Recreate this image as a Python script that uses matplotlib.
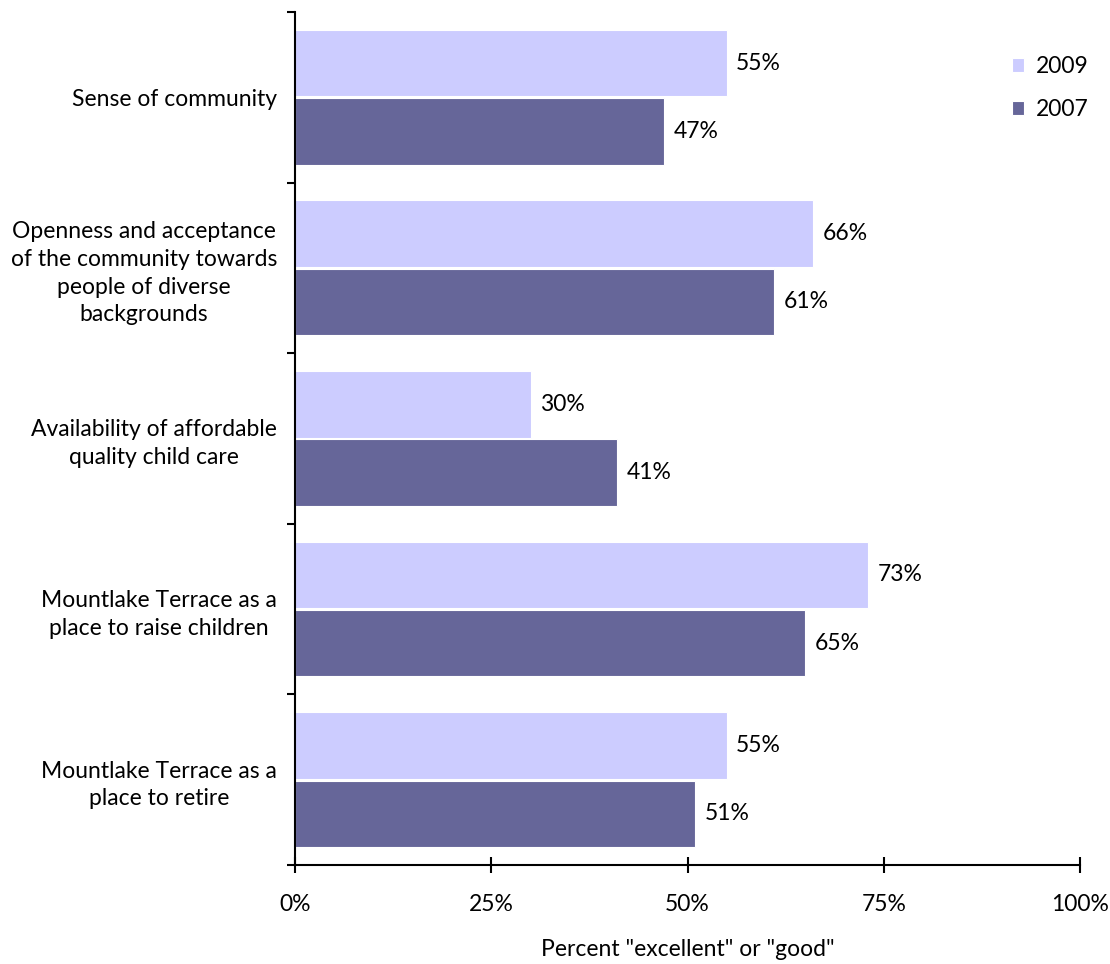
import numpy as np
import matplotlib.pyplot as plt
from matplotlib.ticker import FuncFormatter

categories = ['Sense of community',
              'Openness and acceptance\nof the community towards\npeople of diverse\nbackgrounds',
              'Availability of affordable\nquality child care',
              'Mountlake Terrace as a\nplace to raise children',
              'Mountlake Terrace as a\nplace to retire']
vals_2009 = [55, 66, 30, 73, 55]
vals_2007 = [47, 61, 41, 65, 51]

c2009 = '#ccccff'
c2007 = '#666699'

plt.rcParams['font.family'] = ['Lato', 'DejaVu Sans']
fs = 16.5

fig = plt.figure(figsize=(11.1, 9.64), dpi=100)
ax = fig.add_axes([0.2658, 0.1027, 0.7072, 0.8849])

y = np.arange(len(categories))
h = 0.39
ax.barh(y - 0.2, vals_2009, height=h, color=c2009, edgecolor='white', linewidth=0.8, label='2009')
ax.barh(y + 0.2, vals_2007, height=h, color=c2007, edgecolor='white', linewidth=0.8, label='2007')

for i in range(len(categories)):
    ax.text(vals_2009[i] + 1.2, y[i] - 0.2, '%d%%' % vals_2009[i], va='center', ha='left', fontsize=fs)
    ax.text(vals_2007[i] + 1.2, y[i] + 0.2, '%d%%' % vals_2007[i], va='center', ha='left', fontsize=fs)

ax.set_ylim(len(categories) - 0.5, -0.5)
ax.set_xlim(0, 100)
ax.set_xticks([0, 25, 50, 75, 100])
ax.xaxis.set_major_formatter(FuncFormatter(lambda v, p: '%d%%' % v))
ax.set_yticks(np.arange(-0.5, len(categories), 1.0))
ax.set_yticklabels([])
ax.set_yticks(y, minor=True)
ax.set_yticklabels(categories, minor=True, fontsize=fs, ha='right', multialignment='center',
                   linespacing=1.4)
ax.tick_params(axis='y', which='minor', length=0, pad=13)
ax.tick_params(axis='y', which='major', length=6, width=1.5, direction='out')
ax.tick_params(axis='x', length=12, width=1.5, direction='inout', labelsize=fs, pad=15)

for s in ['top', 'right']:
    ax.spines[s].set_visible(False)
ax.spines['left'].set_linewidth(1.5)
ax.spines['bottom'].set_linewidth(1.5)

ax.set_xlabel('Percent "excellent" or "good"', fontsize=fs, labelpad=17)

ax.legend(loc='upper right', bbox_to_anchor=(1.037, 0.972), frameon=False, fontsize=fs,
          handlelength=0.55, handleheight=0.55, handletextpad=0.5, labelspacing=0.95)

plt.savefig('out.png', dpi=100)
